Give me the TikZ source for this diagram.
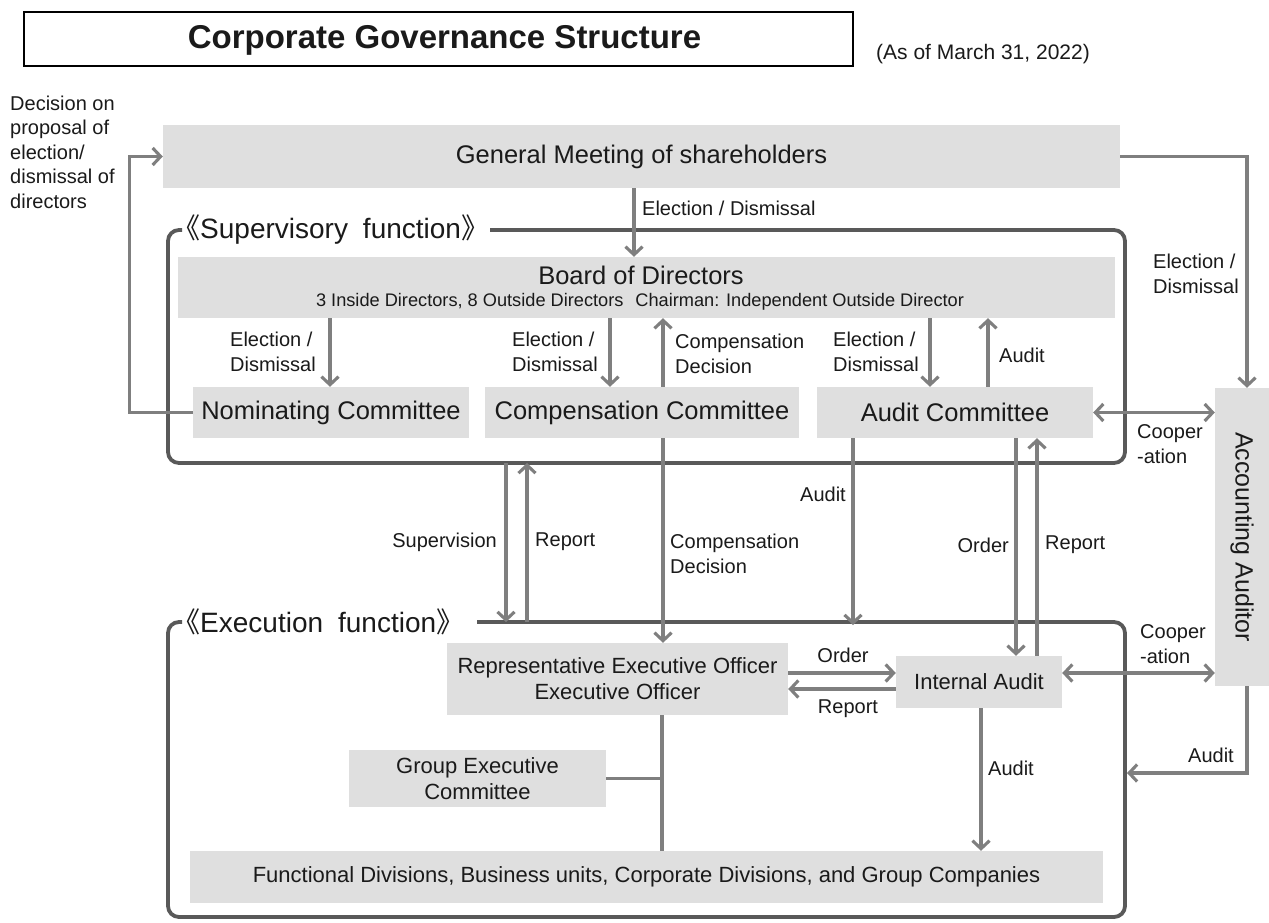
\documentclass[tikz,border=0pt]{standalone}
\usepackage{fontspec}
\setmainfont{Liberation Sans}
\newfontfamily\cjkfont{Noto Sans CJK JP}
\usepackage{graphicx}
\usetikzlibrary{arrows.meta}
\definecolor{boxgray}{HTML}{DFDFDF}
\definecolor{linegray}{HTML}{7F7F7F}
\definecolor{framegray}{HTML}{595959}
\definecolor{txt}{HTML}{1A1A1A}
\tikzset{
  box/.style={fill=boxgray, draw=none, inner sep=0pt, align=center, text=txt},
  conn/.style={draw=linegray, line width=3.1pt, -{Straight Barb[length=8pt,width=17pt]}},
  plainline/.style={draw=linegray, line width=3.1pt},
  bothconn/.style={draw=linegray, line width=3.1pt, {Straight Barb[length=8pt,width=17pt]}-{Straight Barb[length=8pt,width=17pt]}},
  framebox/.style={draw=framegray, line width=3.8pt, rounded corners=11pt},
  lbl/.style={font=\fontsize{20}{24.5}\selectfont, text=txt, inner sep=0pt, align=left},
  bigtxt/.style={font=\fontsize{25.5}{30}\selectfont},
  midtxt/.style={font=\fontsize{22}{26}\selectfont},
  frametitle/.style={font=\fontsize{28}{30}\selectfont, text=txt, inner sep=0pt, anchor=west},
}
\begin{document}
\begin{tikzpicture}[x=1pt,y=-1pt]
\useasboundingbox (0,0) rectangle (1269,922);
\fill[white] (0,0) rectangle (1269,922);

% title
\node[draw=black, line width=1.4pt, fill=white, minimum width=829pt, minimum height=54pt, inner sep=0pt] (titlebox) at (438.5,39) {};
\node[font=\bfseries\fontsize{33}{36}\selectfont, text=txt, inner sep=0pt] (title) at (444.5,40) {Corporate Governance Structure};
\node[font=\fontsize{21}{24}\selectfont, text=txt, inner sep=0pt] (asof) at (983,54) {(As of March 31, 2022)};

% frames
\draw[framebox] (182,230) -- (168,230) -- (168,463) -- (1125,463) -- (1125,230) -- (490,230);
\draw[framebox] (182,622) -- (168,622) -- (168,917) -- (1125,917) -- (1125,622) -- (477,622);
\coordinate (supB) at (0,463);
\coordinate (exT) at (0,622);
\coordinate (exR) at (1125,0);
\node[frametitle] (suptitle) at (172,230) {{\cjkfont 《}Supervisory\hspace{15pt}function{\cjkfont 》}};
\node[frametitle] (extitle) at (172,622) {{\cjkfont 《}Execution\hspace{15pt}function{\cjkfont 》}};

% boxes
\node[box, bigtxt, minimum width=957pt, minimum height=63pt] (gm) at (641.5,156.5) {General Meeting of shareholders};
\node[box, minimum width=937pt, minimum height=61pt] (board) at (646.5,287.5) {};
\node[bigtxt, text=txt, inner sep=0pt] (boardT) at (641,275) {Board of Directors};
\node[font=\fontsize{18.2}{20}\selectfont, text=txt, inner sep=0pt] (boardS) at (640,302) {3 Inside Directors, 8 Outside Directors\hspace{12pt}Chairman: Independent Outside Director};
\node[box, bigtxt, minimum width=276pt, minimum height=51pt] (nom) at (331,412.5) {Nominating Committee};
\node[box, bigtxt, minimum width=314pt, minimum height=51pt] (comp) at (642,412.5) {Compensation Committee};
\node[box, bigtxt, minimum width=276pt, minimum height=51pt] (aud) at (955,412.5) {Audit Committee};
\node[box, minimum width=54pt, minimum height=298pt] (aa) at (1242,537) {\rotatebox{-90}{\fontsize{25}{28}\selectfont Accounting Auditor}};
\node[box, midtxt, minimum width=341pt, minimum height=72pt] (rep) at (617.5,679) {Representative Executive Officer\\Executive Officer};
\node[box, midtxt, minimum width=166pt, minimum height=52pt] (ia) at (979,682) {Internal Audit};
\node[box, midtxt, minimum width=257pt, minimum height=57pt] (gec) at (477.5,778.5) {Group Executive\\Committee};
\node[box, font=\fontsize{22}{24}\selectfont, minimum width=913pt, minimum height=52pt] (fd) at (646.5,877) {Functional Divisions, Business units, Corporate Divisions, and Group Companies};

% left label
\node[lbl, anchor=west] (declbl) at (10,152) {Decision on\\proposal of\\election/\\dismissal of\\directors};

% connectors
\draw[conn] (nom.west) -- ++(-63,0) |- (gm.west);
\draw[conn] (634,0 |- gm.south) -- (634,0 |- board.north);
\node[lbl, anchor=west] at (642,208) {Election / Dismissal};
\draw[conn] (gm.east) -- (1247,0 |- gm.east) -- (1247,0 |- aa.north);
\node[lbl, anchor=west] at (1153,274) {Election /\\Dismissal};

\draw[conn] (330,0 |- board.south) -- (330,0 |- nom.north);
\node[lbl, anchor=west] at (230,352) {Election /\\Dismissal};
\draw[conn] (610,0 |- board.south) -- (610,0 |- comp.north);
\node[lbl, anchor=west] at (512,352) {Election /\\Dismissal};
\draw[conn] (663,0 |- comp.north) -- (663,0 |- board.south);
\node[lbl, anchor=west] at (675,354) {Compensation\\Decision};
\draw[conn] (930,0 |- board.south) -- (930,0 |- aud.north);
\node[lbl, anchor=west] at (833,352) {Election /\\Dismissal};
\draw[conn] (988,0 |- aud.north) -- (988,0 |- board.south);
\node[lbl, anchor=west] at (999,355) {Audit};

\draw[bothconn] (aud.east) -- (aa.west |- aud.east);
\node[lbl, anchor=west] at (1137,444) {Cooper\\-ation};

\draw[conn] (506,0 |- supB) -- (506,0 |- exT);
\node[lbl, anchor=east] at (497,542) {Supervision};
\draw[conn] (527,0 |- exT) -- (527,0 |- supB);
\node[lbl, anchor=west] at (535,542) {Report};

\draw[conn] (663,0 |- comp.south) -- (663,0 |- rep.north);
\node[lbl, anchor=west] at (670,554) {Compensation\\Decision};

\draw[conn] (853,0 |- aud.south) -- ([yshift=-3pt]853,0 |- exT);
\node[lbl, anchor=east] at (846,494) {Audit};

\draw[conn] (1016,0 |- aud.south) -- (1016,0 |- ia.north);
\node[lbl, anchor=east] at (1009,545) {Order};
\draw[conn] (1037,0 |- ia.north) -- (1037,0 |- aud.south);
\node[lbl, anchor=west] at (1045,545) {Report};

\draw[conn] (rep.east |- 0,673) -- (ia.west |- 0,673);
\node[lbl] at (843,655) {Order};
\draw[conn] (ia.west |- 0,689) -- (rep.east |- 0,689);
\node[lbl] at (848,709) {Report};

\draw[bothconn] (ia.east |- 0,673) -- (aa.west |- 0,673);
\node[lbl, anchor=west] at (1140,644) {Cooper\\-ation};

\draw[conn] (1247,0 |- aa.south) -- (1247,773) -- ([xshift=2pt]exR |- 0,773);
\node[lbl] at (1211,755) {Audit};

\draw[conn] (981,0 |- ia.south) -- (981,0 |- fd.north);
\node[lbl, anchor=west] at (988,768) {Audit};

\draw[plainline] (662,0 |- rep.south) -- (662,0 |- fd.north);
\draw[plainline] (gec.east) -- (662,0 |- gec.east);
\end{tikzpicture}
\end{document}
